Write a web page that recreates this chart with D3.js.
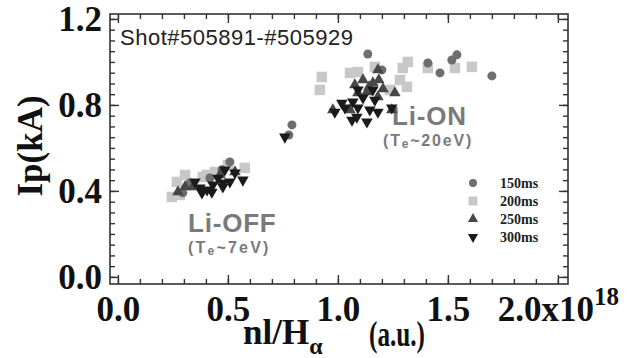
<!DOCTYPE html>
<html>
<head>
<meta charset="utf-8">
<script src="https://cdn.jsdelivr.net/npm/d3@7"></script>
<style>
  body { margin: 0; background: #fff; }
  svg text { font-family: "Liberation Serif", serif; }
</style>
</head>
<body>
<div id="chart"></div>
<script>
// data: [nl/Halpha (1e18), Ip (kA)]
const pts150 = [
  [1.136, 1.037], [1.409, 0.995], [1.464, 0.949], [1.518, 1.009], [1.541, 1.033],
  [1.700, 0.935], [1.200, 0.963], [0.791, 0.707], [0.777, 0.660], [0.509, 0.535],
  [0.295, 0.391], [0.327, 0.437], [0.473, 0.498], [0.418, 0.460]
];
const pts200 = [
  [0.927, 0.930], [0.918, 0.870], [1.055, 0.949], [1.091, 0.953], [1.168, 0.977],
  [1.295, 0.972], [1.318, 1.000], [1.282, 0.916], [1.314, 0.884], [1.236, 0.870],
  [1.409, 0.972], [1.532, 0.972], [1.609, 0.977],
  [0.268, 0.442], [0.282, 0.381], [0.245, 0.372], [0.305, 0.474], [0.405, 0.474],
  [0.441, 0.488], [0.500, 0.521], [0.577, 0.507], [0.386, 0.465]
];
const pts250 = [
  [1.182, 0.963], [1.186, 0.916], [1.114, 0.916], [1.077, 0.893], [1.159, 0.902],
  [1.259, 0.856], [1.132, 0.860], [1.091, 0.856], [1.182, 0.837], [1.055, 0.777],
  [0.977, 0.777], [1.245, 0.777], [1.141, 0.884], [1.205, 0.874],
  [0.305, 0.419], [0.341, 0.419], [0.273, 0.395], [0.464, 0.474], [0.532, 0.488]
];
const pts300 = [
  [1.018, 0.809], [1.068, 0.814], [1.114, 0.833], [1.168, 0.823], [0.986, 0.767],
  [1.032, 0.786], [1.091, 0.786], [1.145, 0.777], [1.182, 0.767], [1.064, 0.730],
  [1.132, 0.721], [1.086, 0.744], [1.245, 0.786], [1.159, 0.870], [1.091, 0.870],
  [0.759, 0.651],
  [0.350, 0.442], [0.373, 0.414], [0.405, 0.405], [0.432, 0.428], [0.455, 0.460],
  [0.477, 0.437], [0.427, 0.395], [0.382, 0.391], [0.568, 0.451], [0.532, 0.484],
  [0.486, 0.498], [0.509, 0.442], [0.477, 0.419]
];
const xMajor = [0, 0.5, 1.0, 1.5, 2.0];
const yMajor = [0, 0.4, 0.8, 1.2];
const legendLabels = ["150ms", "200ms", "250ms", "300ms"];

const width = 638, height = 358;
const padL = 110, padR = 568, padT = 14, padB = 284;

const svg = d3.select("#chart").append("svg")
  .attr("width", width)
  .attr("height", height);

// scales
let x = d3.scaleLinear().domain([-0.036, 2.046]).range([padL, padR]);
let y = d3.scaleLinear().domain([-0.033, 1.223]).range([padB, padT]);

const xMinor = d3.range(0, 20.5, 1).map(d => d / 10);
const yMinor = d3.range(0, 24.5, 1).map(d => d / 20);

function styleAxis(g) {
  g.select(".domain").remove();
  g.selectAll(".tick line").attr("stroke", "#333").attr("stroke-width", 1.4);
}

// minor ticks on all four sides
svg.append("g").attr("transform", "translate(0," + padB + ")")
  .call(d3.axisBottom(x).tickValues(xMinor).tickSize(-5).tickFormat("")).call(styleAxis);
svg.append("g").attr("transform", "translate(0," + padT + ")")
  .call(d3.axisTop(x).tickValues(xMinor).tickSize(-5).tickFormat("")).call(styleAxis);
svg.append("g").attr("transform", "translate(" + padL + ",0)")
  .call(d3.axisLeft(y).tickValues(yMinor).tickSize(-5).tickFormat("")).call(styleAxis);
svg.append("g").attr("transform", "translate(" + padR + ",0)")
  .call(d3.axisRight(y).tickValues(yMinor).tickSize(-5).tickFormat("")).call(styleAxis);

// major ticks
const xAxis = svg.append("g").attr("transform", "translate(0," + padB + ")")
  .call(d3.axisBottom(x).tickValues(xMajor).tickSize(-9).tickPadding(12).tickFormat(d3.format(".1f")))
  .call(styleAxis);
svg.append("g").attr("transform", "translate(0," + padT + ")")
  .call(d3.axisTop(x).tickValues(xMajor).tickSize(-9).tickFormat("")).call(styleAxis);
const yAxis = svg.append("g").attr("transform", "translate(" + padL + ",0)")
  .call(d3.axisLeft(y).tickValues(yMajor).tickSize(-9).tickPadding(8).tickFormat(d3.format(".1f")))
  .call(styleAxis);
svg.append("g").attr("transform", "translate(" + padR + ",0)")
  .call(d3.axisRight(y).tickValues(yMajor).tickSize(-9).tickFormat("")).call(styleAxis);

xAxis.selectAll("text")
  .attr("fill", "#111")
  .style("font-family", "'Liberation Serif', serif")
  .style("font-size", "35px")
  .style("font-weight", "bold");
yAxis.selectAll("text")
  .attr("fill", "#111")
  .style("font-family", "'Liberation Serif', serif")
  .style("font-size", "35px")
  .style("font-weight", "bold");

// "2.0x10^18" on the last tick
xAxis.selectAll(".tick text").filter(d => d === 2.0)
  .text("2.0x10")
  .append("tspan")
  .attr("dy", "-0.65em")
  .style("font-size", "25px")
  .text("18");

// frame
svg.append("rect")
  .attr("x", padL).attr("y", padT)
  .attr("width", padR - padL).attr("height", padB - padT)
  .attr("fill", "none").attr("stroke", "#333").attr("stroke-width", 1.6);

// axis titles
const xt = svg.append("text")
  .attr("x", 243).attr("y", 344)
  .attr("fill", "#111")
  .style("font-size", "35px").style("font-weight", "bold");
xt.append("tspan").text("nl/H");
xt.append("tspan").attr("dy", 10).style("font-size", "24px").text("\u03b1");

svg.append("text")
  .attr("x", 369).attr("y", 346)
  .attr("fill", "#111")
  .attr("textLength", 56)
  .attr("lengthAdjust", "spacingAndGlyphs")
  .style("font-size", "35px").style("font-weight", "bold")
  .text("(a.u.)");

svg.append("text")
  .attr("transform", "translate(42,146) rotate(-90)")
  .attr("text-anchor", "middle")
  .attr("fill", "#111")
  .style("font-size", "35px").style("font-weight", "bold")
  .text("Ip(kA)");

// annotations
svg.append("text")
  .attr("x", 120).attr("y", 45)
  .attr("fill", "#222")
  .style("font-family", "'Liberation Sans', sans-serif")
  .style("font-size", "22px")
  .style("letter-spacing", "0.5px")
  .text("Shot#505891-#505929");

function phase(name, sub, tx, ty, dx, ls) {
  svg.append("text")
    .attr("x", tx).attr("y", ty)
    .attr("fill", "#7a7a7a")
    .style("font-family", "'Liberation Sans', sans-serif")
    .style("font-size", "26px").style("font-weight", "bold")
    .style("letter-spacing", "0.8px")
    .text(name);
  const t = svg.append("text")
    .attr("x", tx + dx).attr("y", ty + 21)
    .attr("fill", "#7a7a7a")
    .style("font-family", "'Liberation Sans', sans-serif")
    .style("font-size", "16px").style("font-weight", "bold")
    .style("letter-spacing", ls + "px");
  t.append("tspan").text("(T");
  t.append("tspan").attr("dy", 2).style("font-size", "12px").text("e");
  t.append("tspan").attr("dy", -2).text(sub + ")");
}
phase("Li-ON", "~20eV", 392, 125, -9, 1.8);
phase("Li-OFF", "~7eV", 188, 232, 0, 2.2);

// markers
const series = [
  { pts: pts200, type: d3.symbolSquare, size: 110, color: "#c8c8c8", rot: 0 },
  { pts: pts150, type: d3.symbolCircle, size: 64, color: "#6e6e6e", rot: 0 },
  { pts: pts250, type: d3.symbolTriangle, size: 58, color: "#474747", rot: 0 },
  { pts: pts300, type: d3.symbolTriangle, size: 58, color: "#1a1a1a", rot: 180 }
];

series.forEach(s => {
  svg.append("g").selectAll("path")
    .data(s.pts)
    .enter()
    .append("path")
    .attr("d", d3.symbol().type(s.type).size(s.size))
    .attr("transform", d => "translate(" + x(d[0]) + "," + y(d[1]) + ") rotate(" + s.rot + ")")
    .attr("fill", s.color);
});

// legend
const legend = [
  { type: d3.symbolCircle, size: 50, color: "#6e6e6e", rot: 0 },
  { type: d3.symbolSquare, size: 80, color: "#c8c8c8", rot: 0 },
  { type: d3.symbolTriangle, size: 45, color: "#474747", rot: 0 },
  { type: d3.symbolTriangle, size: 45, color: "#1a1a1a", rot: 180 }
];
const lg = svg.append("g").selectAll("g")
  .data(legend)
  .enter()
  .append("g")
  .attr("transform", (d, i) => "translate(473," + (183 + i * 18) + ")");
lg.append("path")
  .attr("d", d => d3.symbol().type(d.type).size(d.size)())
  .attr("transform", d => "rotate(" + d.rot + ")")
  .attr("fill", d => d.color);
lg.append("text")
  .attr("x", 27).attr("y", 5)
  .attr("fill", "#222")
  .style("font-size", "14px").style("font-weight", "bold")
  .text((d, i) => legendLabels[i]);
</script>
</body>
</html>
